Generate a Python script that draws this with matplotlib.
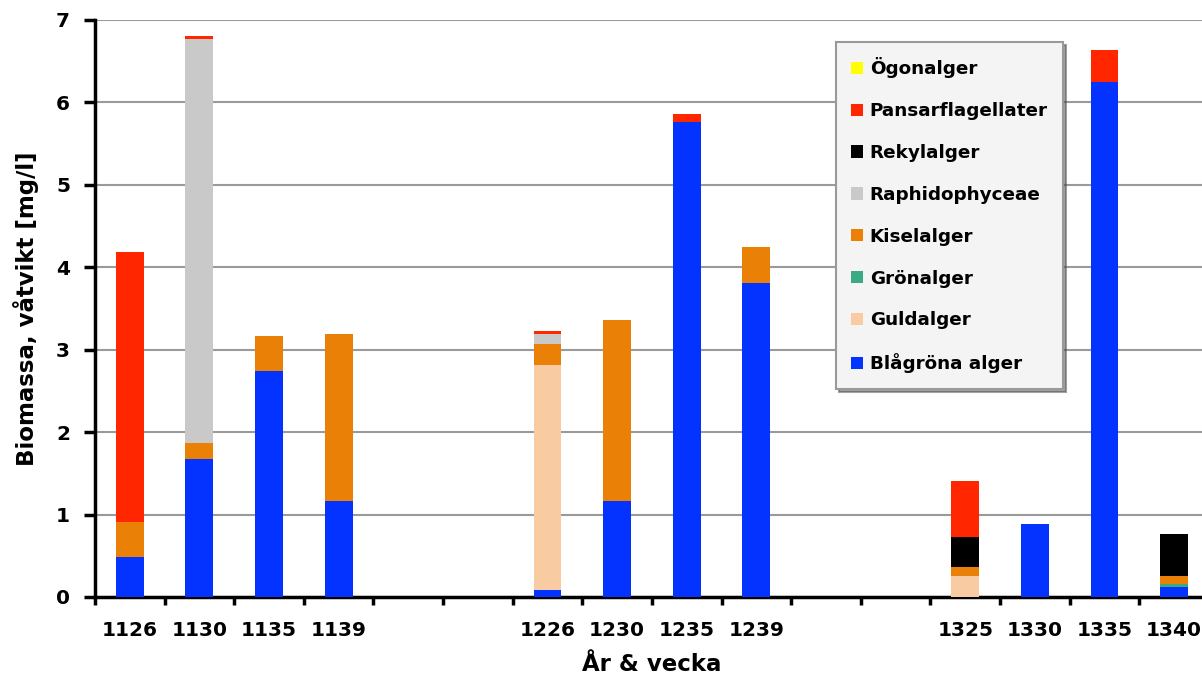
import numpy as np
import matplotlib.pyplot as plt
from matplotlib.ticker import FixedLocator

# År & vecka (tomma platser = luckor mellan åren)
veckor = ['1126', '1130', '1135', '1139', '', '',
          '1226', '1230', '1235', '1239', '', '',
          '1325', '1330', '1335', '1340']

# biomassa per grupp [mg/l]
blagrona = [0.49, 1.67, 2.74, 1.17, 0, 0, 0.08, 1.17, 5.76, 3.81, 0, 0, 0.00, 0.88, 6.25, 0.12]
guldalger = [0, 0, 0, 0, 0, 0, 2.73, 0, 0, 0, 0, 0, 0.26, 0, 0, 0]
gronalger = [0, 0, 0, 0, 0, 0, 0, 0, 0, 0, 0, 0, 0, 0, 0, 0.04]
kiselalger = [0.42, 0.20, 0.42, 2.02, 0, 0, 0.26, 2.19, 0, 0.44, 0, 0, 0.10, 0, 0, 0.10]
raphido = [0, 4.90, 0, 0, 0, 0, 0.12, 0, 0, 0, 0, 0, 0, 0, 0, 0]
rekylalger = [0, 0, 0, 0, 0, 0, 0, 0, 0, 0, 0, 0, 0.37, 0, 0, 0.50]
pansar = [3.28, 0.04, 0, 0, 0, 0, 0.03, 0, 0.10, 0, 0, 0, 0.68, 0, 0.39, 0]
ogonalger = [0] * 16

grupper = ['Blågröna alger', 'Guldalger', 'Grönalger', 'Kiselalger',
           'Raphidophyceae', 'Rekylalger', 'Pansarflagellater', 'Ögonalger']
serier = [blagrona, guldalger, gronalger, kiselalger, raphido, rekylalger, pansar, ogonalger]
farger = ['#0433FF', '#F9CBA2', '#3AAA85', '#EA8106',
          '#C9C9C9', '#000000', '#FF2600', '#FFFF00']

plt.rcParams['font.family'] = 'DejaVu Sans'
plt.rcParams['font.weight'] = 'bold'

fig = plt.figure(figsize=(12.02, 6.75), dpi=100)
ax = fig.add_axes([0.079, 0.1156, 0.9268, 0.855])

x = np.arange(len(veckor))
botten = np.zeros(len(veckor))
for namn, v, f in zip(grupper, serier, farger):
    v = np.array(v)
    ax.bar(x, v, width=0.4, bottom=botten, color=f, label=namn, zorder=3)
    botten += v

ax.set_xlim(-0.5, len(veckor) - 0.5)
ax.set_ylim(0, 7)
ax.set_yticks(range(0, 8))
ax.yaxis.grid(True, color='#9a9a9a', linewidth=1.5, zorder=0)
ax.set_axisbelow(True)

ax.set_xticks(x)
ax.set_xticklabels(veckor, fontsize=14.5, fontweight='bold')
ax.xaxis.set_minor_locator(FixedLocator(np.arange(-0.5, len(veckor), 1)))
ax.tick_params(axis='x', which='major', length=0, pad=17)
ax.tick_params(axis='x', which='minor', length=6, width=2.5, direction='out')
ax.tick_params(axis='y', length=8, width=2.5, labelsize=14.5, pad=10)
for t in ax.get_yticklabels():
    t.set_fontweight('bold')

for s in ['top', 'right']:
    ax.spines[s].set_visible(False)
for s in ['left', 'bottom']:
    ax.spines[s].set_linewidth(2.5)

ax.set_xlabel('År & vecka', fontsize=16.5, fontweight='bold', labelpad=10)
ax.set_ylabel('Biomassa, våtvikt [mg/l]', fontsize=16.5, fontweight='bold', labelpad=12)

h, l = ax.get_legend_handles_labels()
leg = ax.legend(h[::-1], l[::-1], loc='upper left', bbox_to_anchor=(0.665, 0.962),
                borderaxespad=0, frameon=True, fancybox=False, shadow=True,
                handlelength=0.65, handleheight=0.65, handletextpad=0.35,
                labelspacing=1.3, borderpad=0.85, prop={'weight': 'bold', 'size': 13.2})
leg.get_frame().set_facecolor('#F4F4F4')
leg.get_frame().set_edgecolor('#9a9a9a')
leg.get_frame().set_linewidth(1.5)
leg.get_frame().set_alpha(1)

fig.savefig('out.png', dpi=100)
